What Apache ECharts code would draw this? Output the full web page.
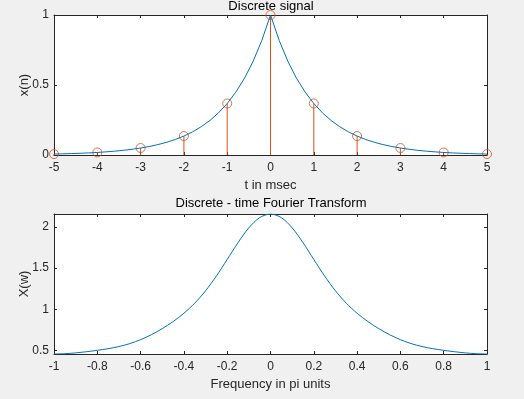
<!DOCTYPE html>
<html>
<head>
<meta charset="utf-8">
<script src="https://cdn.jsdelivr.net/npm/echarts@6/dist/echarts.min.js"></script>
<style>
html,body{margin:0;padding:0;background:#f0f0f0;}
#c{width:524px;height:399px;}
</style>
</head>
<body>
<div id="c"></div>
<script>
// ---- Top subplot: continuous envelope x(t) ----
const tCurve = [-5,-4.8,-4.6,-4.4,-4.2,-4,-3.8,-3.6,-3.4,-3.2,-3,-2.8,-2.6,-2.4,-2.2,-2,-1.8,-1.6,-1.4,-1.2,-1,-0.8,-0.6,-0.4,-0.2,0,0.2,0.4,0.6,0.8,1,1.2,1.4,1.6,1.8,2,2.2,2.4,2.6,2.8,3,3.2,3.4,3.6,3.8,4,4.2,4.4,4.6,4.8,5];
const xCurve = [0.0067,0.0082,0.0101,0.0123,0.0150,0.0183,0.0224,0.0273,0.0334,0.0408,0.0498,0.0608,0.0743,0.0907,0.1108,0.1353,0.1653,0.2019,0.2466,0.3012,0.3679,0.4493,0.5488,0.6703,0.8187,1,0.8187,0.6703,0.5488,0.4493,0.3679,0.3012,0.2466,0.2019,0.1653,0.1353,0.1108,0.0907,0.0743,0.0608,0.0498,0.0408,0.0334,0.0273,0.0224,0.0183,0.0150,0.0123,0.0101,0.0082,0.0067];
// ---- Top subplot: discrete samples x(n) ----
const nIdx = [-5,-4,-3,-2,-1,0,1,2,3,4,5];
const xN = [0.0067,0.0183,0.0498,0.1353,0.3679,1,0.3679,0.1353,0.0498,0.0183,0.0067];
// ---- Bottom subplot: DTFT magnitude ----
const wPi = [-1,-0.95,-0.9,-0.85,-0.8,-0.75,-0.7,-0.65,-0.6,-0.55,-0.5,-0.45,-0.4,-0.35,-0.3,-0.25,-0.2,-0.15,-0.1,-0.05,0,0.05,0.1,0.15,0.2,0.25,0.3,0.35,0.4,0.45,0.5,0.55,0.6,0.65,0.7,0.75,0.8,0.85,0.9,0.95,1];
const Xw = [0.4585,0.4621,0.4720,0.4862,0.5030,0.5231,0.5489,0.5844,0.6321,0.6928,0.7660,0.8516,0.9526,1.0748,1.2245,1.4037,1.6050,1.8094,1.9886,2.1120,2.1561,2.1120,1.9886,1.8094,1.6050,1.4037,1.2245,1.0748,0.9526,0.8516,0.7660,0.6928,0.6321,0.5844,0.5489,0.5231,0.5030,0.4862,0.4720,0.4621,0.4585];
// ---- Tick labels of the bottom y axis ----
const yTicksBottom = [0.5, 1, 1.5, 2];
// ---- Text ----
const titles = ['Discrete signal', 'Discrete - time Fourier Transform'];
const xNames = ['t in msec', 'Frequency in pi units'];
const yNames = ['x(n)', 'X(w)'];

const C_AX = '#262626', BLUE = '#0072BD', ORANGE = '#D95319';
const FONT = 'Liberation Sans, Arial, Helvetica, sans-serif';

function xAx(grid, min, max, interval, name, mirror) {
  return {
    type: 'value', gridIndex: grid, min: min, max: max, interval: interval,
    position: mirror ? 'top' : 'bottom',
    name: mirror ? '' : name, nameLocation: 'middle', nameGap: 24, nameMoveOverlap: false,
    nameTextStyle: {color: C_AX, fontSize: 13, fontFamily: FONT},
    axisLine: {show: true, onZero: false, lineStyle: {color: C_AX, width: 1}},
    axisTick: {show: true, inside: true, length: 3, lineStyle: {color: C_AX}},
    axisLabel: {show: !mirror, color: C_AX, fontSize: 12, fontFamily: FONT, margin: 7},
    splitLine: {show: false}
  };
}
function yAx(grid, min, max, interval, name, mirror, custom) {
  const o = {
    type: 'value', gridIndex: grid, min: min, max: max,
    position: mirror ? 'right' : 'left',
    name: mirror ? '' : name, nameLocation: 'middle', nameGap: 23, nameRotate: 90, nameMoveOverlap: false,
    nameTextStyle: {color: C_AX, fontSize: 13, fontFamily: FONT},
    axisLine: {show: true, onZero: false, lineStyle: {color: C_AX, width: 1}},
    axisTick: {show: true, inside: true, length: 3, lineStyle: {color: C_AX}},
    axisLabel: {show: !mirror, color: C_AX, fontSize: 12, fontFamily: FONT, margin: 5},
    splitLine: {show: false}
  };
  if (interval) o.interval = interval;
  if (custom) {
    o.axisTick.customValues = custom;
    o.axisLabel.customValues = custom;
  }
  return o;
}

const chart = echarts.init(document.getElementById('c'), null, {renderer: 'canvas'});
chart.setOption({
  backgroundColor: '#f0f0f0',
  animation: false,
  title: [
    {text: titles[0], left: 271, top: 0, textAlign: 'center', padding: 0,
     textStyle: {color: '#000', fontSize: 13, fontWeight: 'normal', fontFamily: FONT}},
    {text: titles[1], left: 271, top: 197, textAlign: 'center', padding: 0,
     textStyle: {color: '#000', fontSize: 13, fontWeight: 'normal', fontFamily: FONT}}
  ],
  grid: [
    {left: 54, top: 15, width: 433, height: 140, show: true, backgroundColor: '#fff', borderWidth: 0},
    {left: 54, top: 214, width: 433, height: 140, show: true, backgroundColor: '#fff', borderWidth: 0}
  ],
  xAxis: [
    xAx(0, -5, 5, 1, xNames[0], false),
    xAx(0, -5, 5, 1, '', true),
    xAx(1, -1, 1, 0.2, xNames[1], false),
    xAx(1, -1, 1, 0.2, '', true)
  ],
  yAxis: [
    yAx(0, 0, 1, 0.5, yNames[0], false),
    yAx(0, 0, 1, 0.5, '', true),
    yAx(1, 0.4585, 2.1561, null, yNames[1], false, yTicksBottom),
    yAx(1, 0.4585, 2.1561, null, '', true, yTicksBottom)
  ],
  series: [
    {type: 'line', xAxisIndex: 0, yAxisIndex: 0, data: tCurve.map((t, i) => [t, xCurve[i]]),
     showSymbol: false, symbol: 'none', lineStyle: {color: BLUE, width: 1}},
    {type: 'custom', xAxisIndex: 0, yAxisIndex: 0, data: nIdx.map((n, i) => [n, xN[i]]),
     renderItem: function (params, api) {
       const p0 = api.coord([api.value(0), 0]);
       const p1 = api.coord([api.value(0), api.value(1)]);
       return {type: 'line', shape: {x1: p0[0], y1: p0[1], x2: p1[0], y2: p1[1]},
               style: {stroke: ORANGE, lineWidth: 1}};
     }},
    {type: 'scatter', xAxisIndex: 0, yAxisIndex: 0, data: nIdx.map((n, i) => [n, xN[i]]),
     symbol: 'circle', symbolSize: 9, clip: false,
     itemStyle: {color: 'rgba(0,0,0,0)', borderColor: ORANGE, borderWidth: 1}},
    {type: 'line', xAxisIndex: 2, yAxisIndex: 2, data: wPi.map((w, i) => [w, Xw[i]]),
     showSymbol: false, symbol: 'none', smooth: 0.3, lineStyle: {color: BLUE, width: 1}}
  ]
});
</script>
</body>
</html>
